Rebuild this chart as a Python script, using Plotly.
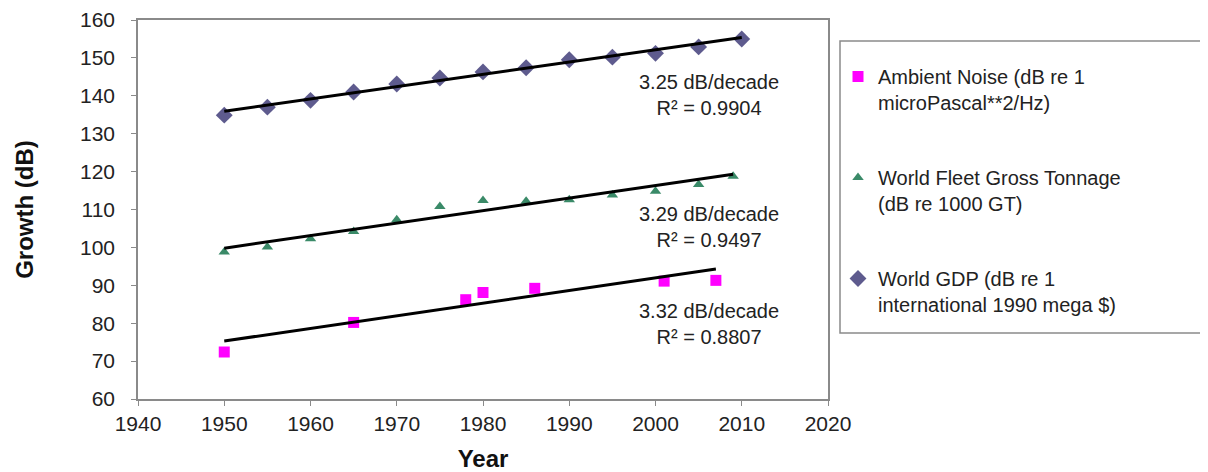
import plotly.graph_objects as go

# ---- data ----
gdp_years = [1950, 1955, 1960, 1965, 1970, 1975, 1980, 1985, 1990, 1995, 2000, 2005, 2010]
gdp_vals = [134.9, 137.0, 138.8, 141.0, 143.1, 144.7, 146.3, 147.4, 149.5, 150.2, 151.2, 152.9, 155.0]

fleet_years = [1950, 1955, 1960, 1965, 1970, 1975, 1980, 1985, 1990, 1995, 2000, 2005, 2009]
fleet_vals = [98.8, 100.1, 102.3, 104.2, 107.3, 110.8, 112.4, 112.2, 112.6, 113.8, 114.8, 116.6, 118.8]

noise_years = [1950, 1965, 1978, 1980, 1986, 2001, 2007]
noise_vals = [72.4, 80.2, 86.2, 88.1, 89.2, 91.1, 91.3]

# linear trend lines (end points)
gdp_trend_years = [1950, 2010]
gdp_trend_vals = [135.9, 155.4]
fleet_trend_years = [1950, 2009]
fleet_trend_vals = [99.8, 119.3]
noise_trend_years = [1950, 2007]
noise_trend_vals = [75.3, 94.3]

trend_labels = [
    "3.25 dB/decade<br>R² = 0.9904",
    "3.29 dB/decade<br>R² = 0.9497",
    "3.32 dB/decade<br>R² = 0.8807",
]
trend_label_x = [2006.2, 2006.2, 2006.2]
trend_label_y = [140.2, 105.4, 79.8]

series_names = [
    "Ambient Noise (dB re 1<br>microPascal**2/Hz)",
    "World Fleet Gross Tonnage<br>(dB re 1000 GT)",
    "World GDP (dB re 1<br>international 1990 mega $)",
]

x_ticks = [1940, 1950, 1960, 1970, 1980, 1990, 2000, 2010, 2020]
y_ticks = [60, 70, 80, 90, 100, 110, 120, 130, 140, 150, 160]

FONT = "Arial, Liberation Sans, sans-serif"
OFF = 8  # page body margin
W, H = 1200, 464
ML, MR, MT, MB = 130, 380, 12, 73

fig = go.Figure()

fig.add_trace(go.Scatter(
    x=noise_years, y=noise_vals, mode="markers", name=series_names[0],
    legendgroup="a",
    marker=dict(symbol="square", size=11, color="#FF00FF"),
))
fig.add_trace(go.Scatter(
    x=fleet_years, y=fleet_vals, mode="markers", name=series_names[1],
    legendgroup="b",
    marker=dict(symbol="triangle-up", size=10, color="#3A8A68"),
))
fig.add_trace(go.Scatter(
    x=gdp_years, y=gdp_vals, mode="markers", name=series_names[2],
    legendgroup="c",
    marker=dict(symbol="diamond", size=13, color="#5E5B8E"),
))

for tx, ty in [(gdp_trend_years, gdp_trend_vals),
               (fleet_trend_years, fleet_trend_vals),
               (noise_trend_years, noise_trend_vals)]:
    fig.add_trace(go.Scatter(
        x=tx, y=ty, mode="lines", showlegend=False, hoverinfo="skip",
        line=dict(color="black", width=3),
    ))

for lbl, lx, ly in zip(trend_labels, trend_label_x, trend_label_y):
    fig.add_annotation(x=lx, y=ly, xref="x", yref="y", text=lbl, showarrow=False,
                       font=dict(family=FONT, size=20, color="#222222"),
                       align="center", xanchor="center", yanchor="middle")

pw = W - ML - MR
ph = H - MT - MB
def px_x(p):
    return (p - OFF - ML) / pw
def px_y(p):
    return (H - MB - (p - OFF)) / ph

# legend frame
fig.add_shape(type="rect", xref="paper", yref="paper",
              x0=px_x(840), x1=px_x(1206), y0=px_y(333), y1=px_y(41),
              line=dict(color="#8a8a8a", width=1.5), fillcolor="rgba(0,0,0,0)")

fig.update_layout(
    width=W, height=H,
    margin=dict(l=ML, r=MR, t=MT, b=MB, autoexpand=False),
    paper_bgcolor="white", plot_bgcolor="white",
    font=dict(family=FONT, size=21, color="#222222"),
    showlegend=True,
    legend=dict(
        x=px_x(838), y=px_y(57), xanchor="left", yanchor="top",
        xref="paper", yref="paper",
        bgcolor="rgba(0,0,0,0)", borderwidth=0,
        font=dict(family=FONT, size=20, color="#222222"),
        traceorder="grouped", tracegroupgap=46, valign="top",
    ),
    xaxis=dict(
        range=[1940, 2020], tickvals=x_ticks, ticktext=[str(v) for v in x_ticks],
        showgrid=False, zeroline=False, automargin=False,
        showline=True, linecolor="#8a8a8a", linewidth=1.5, mirror=True,
        ticks="outside", ticklen=5, tickcolor="#8a8a8a",
        tickfont=dict(family=FONT, size=21, color="#222222"),
        title=dict(text="<b>Year</b>", font=dict(family=FONT, size=24, color="#111111"), standoff=22),
    ),
    yaxis=dict(
        range=[60, 160], tickvals=y_ticks, ticktext=[str(v) for v in y_ticks],
        showgrid=False, zeroline=False, automargin=False,
        showline=True, linecolor="#8a8a8a", linewidth=1.5, mirror=True,
        ticks="outside", ticklen=5, tickcolor="#8a8a8a", ticklabelstandoff=12,
        tickfont=dict(family=FONT, size=21, color="#222222"),
        title=dict(text="<b>Growth (dB)</b>", font=dict(family=FONT, size=24, color="#111111"), standoff=40),
    ),
)

fig.write_html("out.html")
